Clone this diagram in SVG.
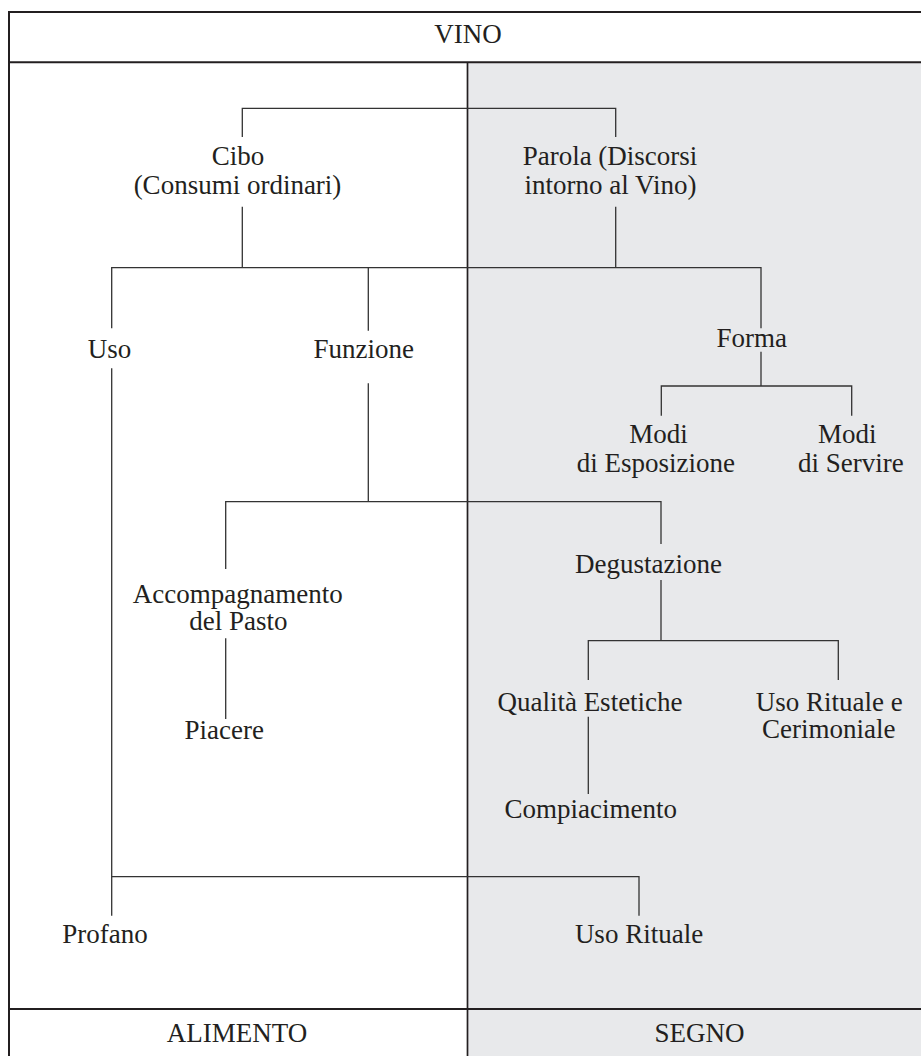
<svg xmlns="http://www.w3.org/2000/svg" width="921" height="1056" viewBox="0 0 921 1056">
<style>
.t{font-family:"Liberation Serif","Times New Roman",serif;font-size:27px;fill:#231f20;text-anchor:middle}
.c{stroke:#333333;stroke-width:1.3;fill:none}
.f{stroke:#231f20;stroke-width:2;fill:none}
</style>
<rect x="0" y="0" width="921" height="1056" fill="#ffffff"/>
<rect id="segno-area" x="468" y="63" width="453" height="993" fill="#e8e9eb"/>
<g id="frame">
<path class="f" d="M9,1056 V12 H921"/>
<path class="f" d="M9,62.3 H921"/>
<path class="f" d="M9,1009 H921"/>
<path class="f" style="stroke-width:1.7" d="M467.5,63 V1056"/>
</g>
<g id="connectors">
<path class="c" d="M242.3,137 V108.3 H615.7 V137"/>
<path class="c" d="M242.3,206.7 V267.7"/>
<path class="c" d="M615.7,206.7 V267.7"/>
<path class="c" d="M111.7,328.3 V267.7 H761 V328.3"/>
<path class="c" d="M368.3,267.7 V330.7"/>
<path class="c" d="M111.7,368.3 V915.7"/>
<path class="c" d="M111.7,876.7 H639 V915.7"/>
<path class="c" d="M368.3,383.3 V501.7"/>
<path class="c" d="M225.7,569 V501.7 H661 V544"/>
<path class="c" d="M761,351.7 V386"/>
<path class="c" d="M661.3,415.7 V386 H851.7 V415.7"/>
<path class="c" d="M225.7,638.3 V719"/>
<path class="c" d="M661,580 V640.7"/>
<path class="c" d="M588.3,680 V640.7 H838.3 V680"/>
<path class="c" d="M588.3,716.7 V794"/>
</g>
<g id="vino"><text class="t" x="468" y="43.3">VINO</text></g>
<g id="cibo"><text class="t"><tspan x="238" y="164.5">Cibo</tspan><tspan x="237.5" y="193.7">(Consumi ordinari)</tspan></text></g>
<g id="parola"><text class="t"><tspan x="610" y="164.5">Parola (Discorsi</tspan><tspan x="610.5" y="193.7">intorno al Vino)</tspan></text></g>
<g id="uso"><text class="t" x="109.5" y="358.3">Uso</text></g>
<g id="funzione"><text class="t" x="363.8" y="358.3">Funzione</text></g>
<g id="forma"><text class="t" x="751.7" y="347.3">Forma</text></g>
<g id="modi-esposizione"><text class="t"><tspan x="658.5" y="442.7">Modi</tspan><tspan x="655.8" y="471.7">di Esposizione</tspan></text></g>
<g id="modi-servire"><text class="t"><tspan x="847.2" y="442.7">Modi</tspan><tspan x="850.8" y="471.7">di Servire</tspan></text></g>
<g id="accompagnamento"><text class="t"><tspan x="237.8" y="602.7">Accompagnamento</tspan><tspan x="238.3" y="630">del Pasto</tspan></text></g>
<g id="piacere"><text class="t" x="224.2" y="739">Piacere</text></g>
<g id="degustazione"><text class="t" x="648.5" y="573.3">Degustazione</text></g>
<g id="qualita"><text class="t" x="590" y="710.7">Qualità Estetiche</text></g>
<g id="uso-rituale-cerimoniale"><text class="t"><tspan x="829.3" y="710.7">Uso Rituale e</tspan><tspan x="828.7" y="738.3">Cerimoniale</tspan></text></g>
<g id="compiacimento"><text class="t" x="590.8" y="818.3">Compiacimento</text></g>
<g id="profano"><text class="t" x="105" y="943.3">Profano</text></g>
<g id="uso-rituale"><text class="t" x="639" y="943.3">Uso Rituale</text></g>
<g id="alimento"><text class="t" x="237" y="1041.7">ALIMENTO</text></g>
<g id="segno"><text class="t" x="699.4" y="1041.7">SEGNO</text></g>
</svg>
